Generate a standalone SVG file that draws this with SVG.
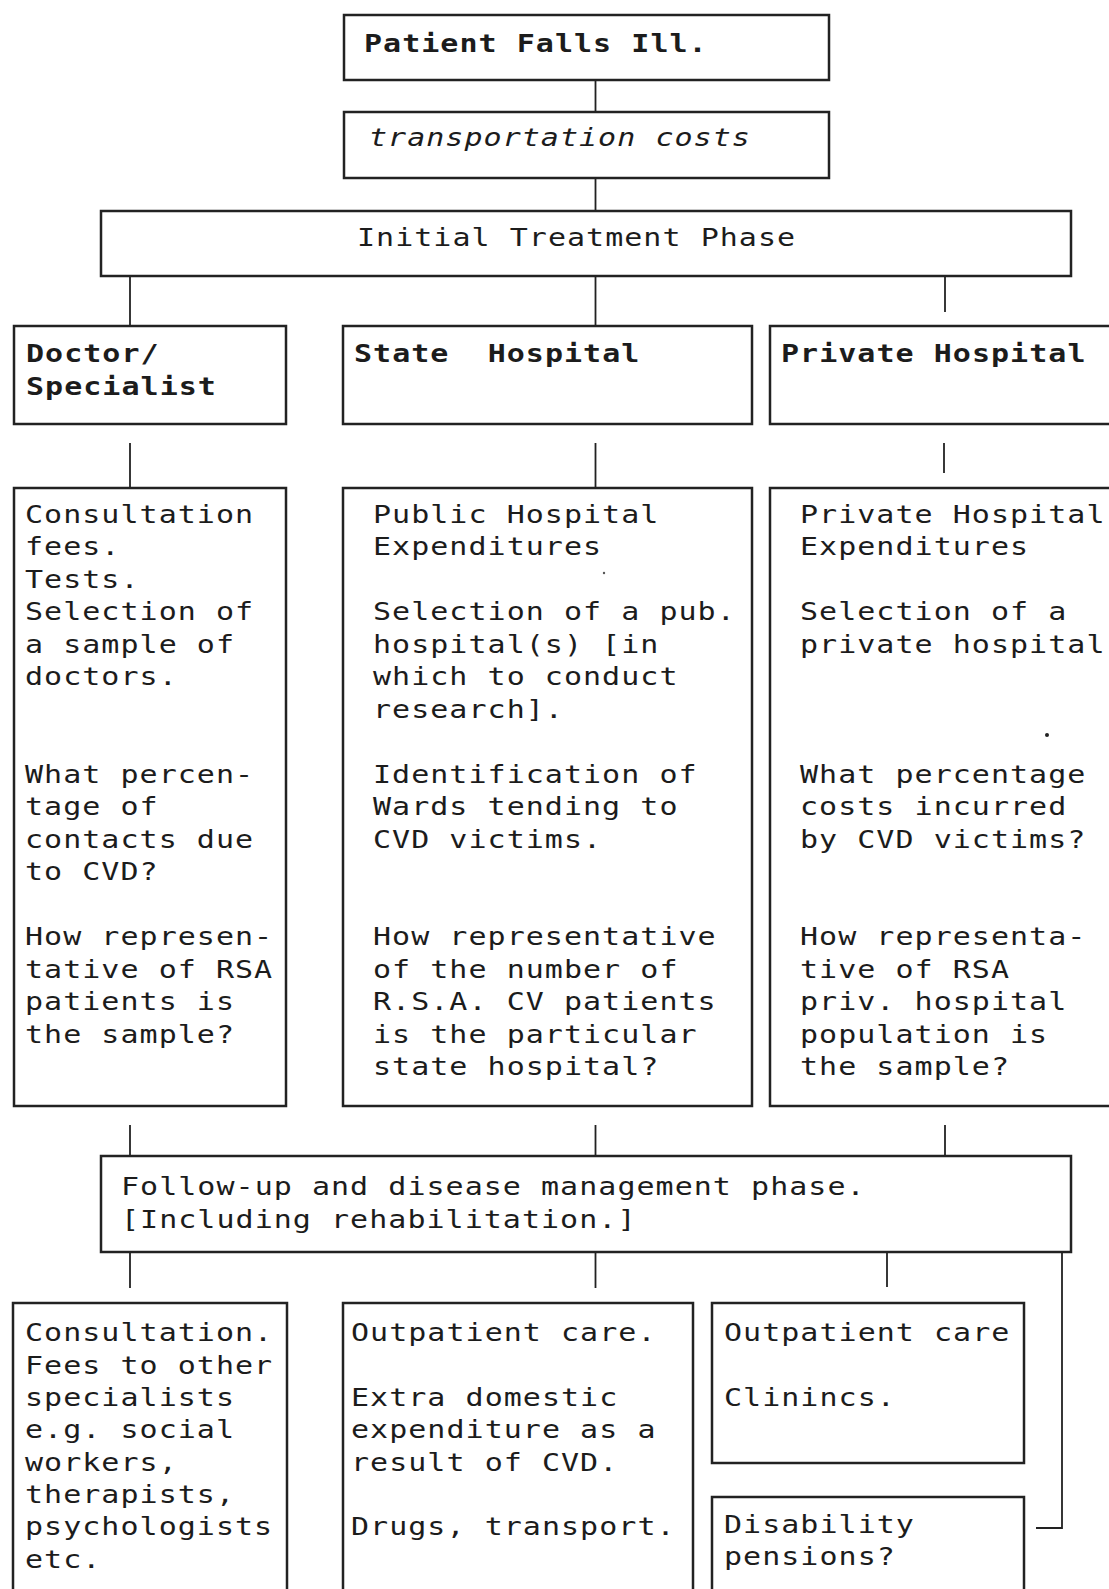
<svg xmlns="http://www.w3.org/2000/svg" width="1109" height="1589" viewBox="0 0 1109 1589">
<style>
.box{fill:#fff;stroke:#222;stroke-width:2.5}
.con{fill:none;stroke:#222;stroke-width:1.8}
text{font-family:"DejaVu Sans Mono","Liberation Mono",monospace;font-size:24px;letter-spacing:0.83px;fill:#1c1c1c}
.b{font-weight:bold}
.i{font-style:italic}
</style>
<rect width="1109" height="1589" fill="#fff"/>
<g id="connectors">
<line class="con" x1="595.5" y1="80" x2="595.5" y2="112"/>
<line class="con" x1="595.5" y1="178" x2="595.5" y2="211"/>
<line class="con" x1="130" y1="276" x2="130" y2="326"/>
<line class="con" x1="595.5" y1="276" x2="595.5" y2="326"/>
<line class="con" x1="945" y1="276" x2="945" y2="312"/>
<line class="con" x1="130" y1="443" x2="130" y2="488"/>
<line class="con" x1="595.5" y1="443" x2="595.5" y2="488"/>
<line class="con" x1="944" y1="443" x2="944" y2="473"/>
<line class="con" x1="130" y1="1125" x2="130" y2="1156"/>
<line class="con" x1="595.5" y1="1125" x2="595.5" y2="1156"/>
<line class="con" x1="945" y1="1125" x2="945" y2="1156"/>
<line class="con" x1="130" y1="1252" x2="130" y2="1288"/>
<line class="con" x1="595.5" y1="1252" x2="595.5" y2="1288"/>
<line class="con" x1="887" y1="1252" x2="887" y2="1287"/>
<path class="con" d="M1062 1252 V1528 H1036"/>
</g>
<g id="patient"><rect class="box" x="344" y="15" width="485" height="65"/><g transform="scale(1.25,1)"><text class="b" x="291.2" y="52">Patient Falls Ill.</text></g></g>
<g id="transport"><rect class="box" x="344" y="112" width="485" height="66"/><g transform="scale(1.25,1)"><text class="i" x="295.2" y="146">transportation costs</text></g></g>
<g id="initial"><rect class="box" x="101" y="211" width="970" height="65"/><g transform="scale(1.25,1)"><text x="285.6" y="246">Initial Treatment Phase</text></g></g>
<g id="doctor"><rect class="box" x="14" y="326" width="272" height="98"/><g transform="scale(1.25,1)"><text class="b" x="20.8" y="362">Doctor/</text><text class="b" x="20.8" y="395">Specialist</text></g></g>
<g id="state"><rect class="box" x="343" y="326" width="409" height="98"/><g transform="scale(1.25,1)"><text class="b" x="283.2" y="362" xml:space="preserve">State  Hospital</text></g></g>
<g id="private"><rect class="box" x="770" y="326" width="345" height="98"/><g transform="scale(1.25,1)"><text class="b" x="624.8" y="362">Private Hospital</text></g></g>
<g id="consult">
<rect class="box" x="14" y="488" width="272" height="618"/>
<g transform="scale(1.25,1)">
<text x="20" y="523">Consultation</text>
<text x="20" y="555.5">fees.</text>
<text x="20" y="588">Tests.</text>
<text x="20" y="620.5">Selection of</text>
<text x="20" y="653">a sample of</text>
<text x="20" y="685.5">doctors.</text>
<text x="20" y="783">What percen-</text>
<text x="20" y="815.5">tage of</text>
<text x="20" y="848">contacts due</text>
<text x="20" y="880.5">to CVD?</text>
<text x="20" y="945.5">How represen-</text>
<text x="20" y="978">tative of RSA</text>
<text x="20" y="1010.5">patients is</text>
<text x="20" y="1043">the sample?</text>
</g>
</g>
<g id="public">
<rect class="box" x="343" y="488" width="409" height="618"/>
<g transform="scale(1.25,1)">
<text x="298.4" y="523">Public Hospital</text>
<text x="298.4" y="555.5">Expenditures</text>
<text x="298.4" y="620.5">Selection of a pub.</text>
<text x="298.4" y="653">hospital(s) [in</text>
<text x="298.4" y="685.5">which to conduct</text>
<text x="298.4" y="718">research].</text>
<text x="298.4" y="783">Identification of</text>
<text x="298.4" y="815.5">Wards tending to</text>
<text x="298.4" y="848">CVD victims.</text>
<text x="298.4" y="945.5">How representative</text>
<text x="298.4" y="978">of the number of</text>
<text x="298.4" y="1010.5">R.S.A. CV patients</text>
<text x="298.4" y="1043">is the particular</text>
<text x="298.4" y="1075.5">state hospital?</text>
</g>
<circle cx="604" cy="573" r="1.2" fill="#555"/>
</g>
<g id="privexp">
<rect class="box" x="770" y="488" width="345" height="618"/>
<g transform="scale(1.25,1)">
<text x="640" y="523">Private Hospital</text>
<text x="640" y="555.5">Expenditures</text>
<text x="640" y="620.5">Selection of a</text>
<text x="640" y="653">private hospital</text>
<text x="640" y="783">What percentage</text>
<text x="640" y="815.5">costs incurred</text>
<text x="640" y="848">by CVD victims?</text>
<text x="640" y="945.5">How representa-</text>
<text x="640" y="978">tive of RSA</text>
<text x="640" y="1010.5">priv. hospital</text>
<text x="640" y="1043">population is</text>
<text x="640" y="1075.5">the sample?</text>
</g>
<circle cx="1047" cy="735" r="2" fill="#222"/>
</g>
<g id="followup">
<rect class="box" x="101" y="1156" width="970" height="96"/>
<g transform="scale(1.25,1)">
<text x="96.8" y="1195">Follow-up and disease management phase.</text>
<text x="96.8" y="1228">[Including rehabilitation.]</text>
</g>
</g>
<g id="consult2">
<rect class="box" x="13" y="1303" width="274" height="320"/>
<g transform="scale(1.25,1)">
<text x="20" y="1341.5">Consultation.</text>
<text x="20" y="1373.8">Fees to other</text>
<text x="20" y="1406.1">specialists</text>
<text x="20" y="1438.4">e.g. social</text>
<text x="20" y="1470.7">workers,</text>
<text x="20" y="1503">therapists,</text>
<text x="20" y="1535.3">psychologists</text>
<text x="20" y="1567.6">etc.</text>
</g>
</g>
<g id="outpatient">
<rect class="box" x="343" y="1303" width="350" height="320"/>
<g transform="scale(1.25,1)">
<text x="280.8" y="1341.5">Outpatient care.</text>
<text x="280.8" y="1406.1">Extra domestic</text>
<text x="280.8" y="1438.4">expenditure as a</text>
<text x="280.8" y="1470.7">result of CVD.</text>
<text x="280.8" y="1535.3">Drugs, transport.</text>
</g>
</g>
<g id="outpatient2">
<rect class="box" x="712" y="1303" width="312" height="160"/>
<g transform="scale(1.25,1)">
<text x="579.2" y="1341.5">Outpatient care</text>
<text x="579.2" y="1406.1">Clinincs.</text>
</g>
</g>
<g id="disability">
<rect class="box" x="712" y="1497" width="312" height="130"/>
<g transform="scale(1.25,1)">
<text x="579.2" y="1533">Disability</text>
<text x="579.2" y="1565.5">pensions?</text>
</g>
</g>
</svg>
